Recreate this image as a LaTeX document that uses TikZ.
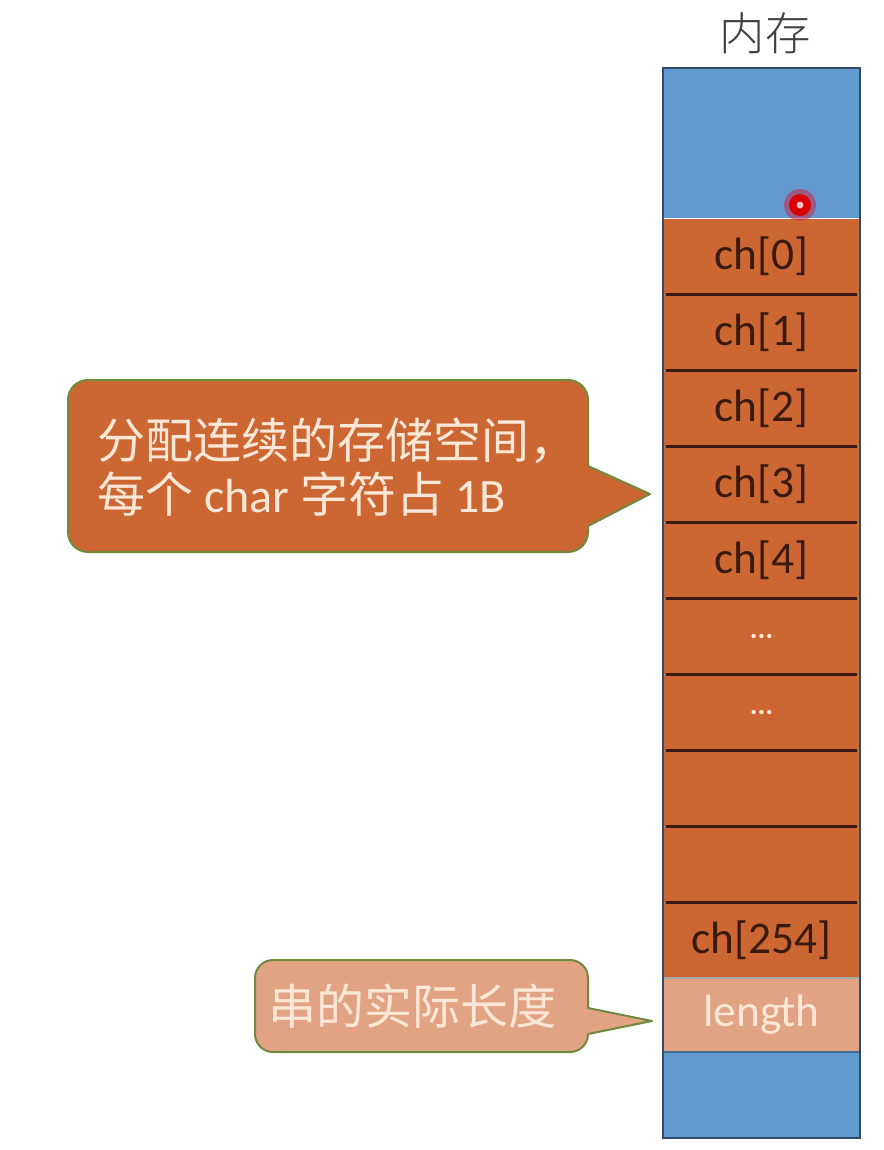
\documentclass[tikz,border=0pt]{standalone}
\usepackage{fontspec}
\setmainfont{Carlito}
\newfontfamily\cjk{Noto Sans CJK SC}
\newfontfamily\cjklight{Noto Sans CJK SC Light}
\usetikzlibrary{positioning}

\definecolor{memblue}{HTML}{6299CF}
\definecolor{memorange}{HTML}{CC6733}
\definecolor{lenfill}{HTML}{E2A385}
\definecolor{bubbleedge}{HTML}{6F8A3C}
\definecolor{cream}{HTML}{FBE7D6}
\definecolor{darkline}{HTML}{3A1A0C}
\definecolor{glow}{HTML}{C8284A}

\tikzset{
  cell/.style={fill=memorange, minimum width=147.75pt, minimum height=57pt,
    inner sep=0pt, outer sep=0pt, text=darkline,
    font=\fontsize{34}{38}\selectfont},
  divider/.style={draw=darkline, line width=2pt, shorten <=2pt, shorten >=2pt},
  bubble/.style={draw=bubbleedge, line width=1.5pt, line join=round},
  bubbletext/.style={text=cream, align=left, inner sep=0pt,
    font=\fontsize{36}{41}\selectfont},
}
\newcommand\celldots{\textcolor{cream}{\fontsize{22}{22}\selectfont\textbf{...}}}

\begin{document}
\begin{tikzpicture}[x=0.75pt,y=0.75pt,yscale=-1,xscale=1]
\useasboundingbox (0,0) rectangle (884,1150);

% memory column
\node[text=black!75, font=\cjklight\fontsize{34}{40}\selectfont] (mem) at (765,33) {内存};
\fill[memblue] (663,68) rectangle (860,218);
\fill[memblue] (663,1052) rectangle (860,1138);

\foreach \t [count=\i from 0] in {ch[0],ch[1],ch[2],ch[3],ch[4],\celldots,\celldots,{},{},ch[254]}
  \node[cell] (c\i) at (761.5,256.5+76*\i) {\t};
\foreach \i in {0,...,8}
  \draw[divider] (c\i.south west) -- (c\i.south east);

\node[cell, fill=lenfill, minimum height=55.5pt, text=cream] (len) at (761.5,1015) {length};
\draw[black!35, line width=0.8pt] (len.north west) -- (len.north east);
\draw[memblue!70!black, line width=0.8pt] (len.south west) -- (len.south east);
\draw[memblue!50!black, line width=0.8pt] (663,68) rectangle (860,1138);

% pointer dot
\fill[glow, opacity=0.55] (800,205) circle (16);
\fill[red!85!black] (800,205) circle (11);
\fill[white!75!red] (800,205) circle (3.5);

% callouts
\coordinate (tip1) at (650,494);
\coordinate (tip2) at (652,1021);
\draw[bubble, fill=memorange]
  (88,380) -- (568,380) arc[start angle=-90, end angle=0, radius=20]
  -- (588,466) -- (tip1) -- (588,526) -- (588,532)
  arc[start angle=0, end angle=90, radius=20] -- (88,552)
  arc[start angle=90, end angle=180, radius=20] -- (68,400)
  arc[start angle=180, end angle=270, radius=20] -- cycle;
\node[bubbletext, anchor=west] (note1) at (97,467)
  {{\cjk 分配连续的存储空间，}\\{\cjk 每个} char {\cjk 字符占} 1B};

\draw[bubble, fill=lenfill]
  (273,960) -- (570,960) arc[start angle=-90, end angle=0, radius=18]
  -- (588,1008) -- (tip2) -- (588,1034)
  arc[start angle=0, end angle=90, radius=18] -- (273,1052)
  arc[start angle=90, end angle=180, radius=18] -- (255,978)
  arc[start angle=180, end angle=270, radius=18] -- cycle;
\node[bubbletext, anchor=west, font=\cjk\fontsize{36}{40}\selectfont] (note2) at (268,1006) {串的实际长度};

\end{tikzpicture}
\end{document}
